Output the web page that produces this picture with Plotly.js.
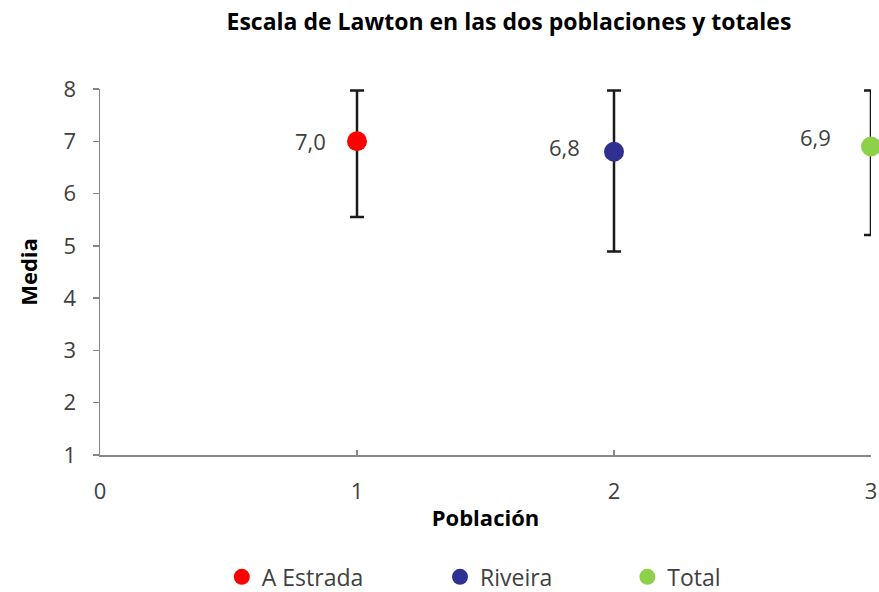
<!DOCTYPE html>
<html>
<head>
<meta charset="utf-8">
<script src="https://cdn.plot.ly/plotly-3.0.1.min.js"></script>
<style>html,body{margin:0;padding:0;background:#fff;}#chart{width:879px;height:592px;}</style>
</head>
<body>
<div id="chart"></div>
<script>
const seriesNames = ["A Estrada", "Riveira", "Total"];
const xPos = [1, 2, 3];
const means = [7.0, 6.8, 6.9];
const errPlus = [0.97, 1.17, 1.07];
const errMinus = [1.45, 1.91, 1.69];
const labels = ["7,0", "6,8", "6,9"];
const colors = ["#ff0000", "#2e3192", "#8dd14a"];
const xTicks = [0, 1, 2, 3];
const yTicks = [1, 2, 3, 4, 5, 6, 7, 8];

const FONT = "'Open Sans', sans-serif";
const legendIds = ["legend", "legend2", "legend3"];
const legendX = [0.158, 0.441, 0.684];
const labelShiftX = [-29, -32, -38];
const labelShiftY = [0, 5, 10];

const traces = seriesNames.map((name, i) => ({
  type: "scatter",
  mode: "markers",
  name: name,
  legend: legendIds[i],
  x: [xPos[i]],
  y: [means[i]],
  marker: {color: colors[i], size: 20},
  error_y: {type: "data", symmetric: false, array: [errPlus[i]], arrayminus: [errMinus[i]],
            color: "#1a1a1a", thickness: 2.5, width: 7},
  cliponaxis: false,
  hoverinfo: "skip"
}));

const annotations = labels.map((t, i) => ({
  x: xPos[i], y: means[i], xref: "x", yref: "y",
  text: t, showarrow: false, xanchor: "right", yanchor: "middle",
  xshift: labelShiftX[i], yshift: labelShiftY[i],
  font: {family: FONT, size: 22, color: "#404040"}
}));

const legendStyle = (x) => ({orientation: "h", x: x, xanchor: "left", y: -0.333, yanchor: "middle",
  bgcolor: "rgba(0,0,0,0)", font: {family: FONT, size: 23, color: "#404040"}});

const layout = {
  width: 879, height: 592,
  paper_bgcolor: "#ffffff", plot_bgcolor: "#ffffff",
  margin: {l: 100, r: 8, t: 89, b: 137, autoexpand: false},
  title: {text: "<b>Escala de Lawton en las dos poblaciones y totales</b>",
          x: 0.579, xanchor: "center", y: 0.963, yanchor: "middle",
          font: {family: FONT, size: 23, color: "#000000"}},
  xaxis: {range: [0, 3], tickvals: xTicks, ticktext: xTicks.map(String),
          showgrid: false, zeroline: false, showline: true, linecolor: "#868686", linewidth: 1.5,
          ticks: "inside", ticklen: 5, tickcolor: "#868686", tickwidth: 1.5,
          ticklabelstandoff: 16,
          tickfont: {family: FONT, size: 22, color: "#404040"},
          title: {text: "<b>Población</b>", font: {family: FONT, size: 22, color: "#000"}, standoff: 6}},
  yaxis: {range: [1, 8], tickvals: yTicks, ticktext: yTicks.map(String),
          showgrid: false, zeroline: false, showline: true, linecolor: "#868686", linewidth: 1.5,
          ticks: "outside", ticklen: 6, tickcolor: "#868686", tickwidth: 1.5,
          ticklabelstandoff: 12,
          tickfont: {family: FONT, size: 22, color: "#404040"},
          title: {text: "<b>Media</b>", font: {family: FONT, size: 22, color: "#000"}, standoff: 20}},
  showlegend: true,
  legend: legendStyle(legendX[0]),
  legend2: legendStyle(legendX[1]),
  legend3: legendStyle(legendX[2]),
  annotations: annotations
};

Plotly.newPlot("chart", traces, layout, {displayModeBar: false, staticPlot: true});
</script>
</body>
</html>
